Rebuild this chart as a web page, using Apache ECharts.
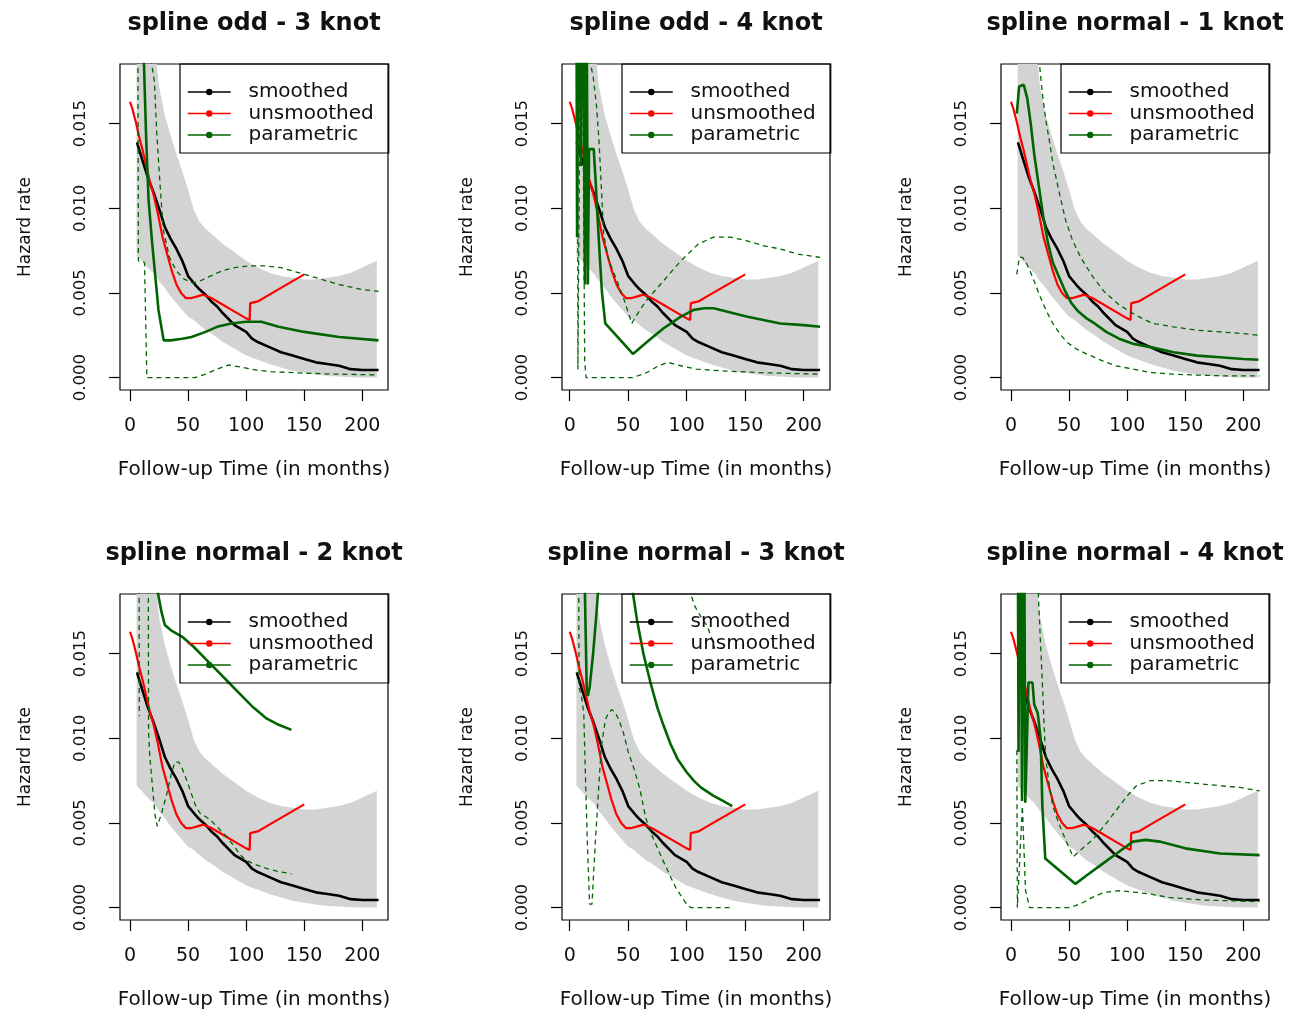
<!DOCTYPE html>
<html><head><meta charset="utf-8">
<script src="https://cdn.jsdelivr.net/npm/echarts@6/dist/echarts.min.js"></script>
<style>html,body{margin:0;padding:0;background:#fff}#c{width:1290px;height:1009px}</style>
</head><body><div id="c"></div>
<script>
// ---------- common data (same in every panel) ----------
const smoothedX = [6, 10, 15, 20, 25, 30, 35, 40, 45, 50, 56, 60, 65, 70, 75, 80, 90, 100, 105, 110, 120, 130, 140, 150, 160, 170, 180, 190, 200, 214];
const smoothedY = [0.0139, 0.0130, 0.0119, 0.0110, 0.0100, 0.0089, 0.0082, 0.0076, 0.0069, 0.0060, 0.0055, 0.0052, 0.0049, 0.0045, 0.0042, 0.0038, 0.0031, 0.0027, 0.0023, 0.0021, 0.0018, 0.0015, 0.0013, 0.0011, 0.0009, 0.0008, 0.0007, 0.0005, 0.00045, 0.00045];
const unsmoothedX = [0, 2, 5, 8, 11, 14, 17, 20, 24, 28, 32, 36, 40, 44, 48, 53, 58, 63, 70, 80, 90, 100, 103, 103.5, 110, 120, 130, 140, 150];
const unsmoothedY = [0.0163, 0.0159, 0.0151, 0.0142, 0.0134, 0.0125, 0.0116, 0.0109, 0.0097, 0.0083, 0.0073, 0.0063, 0.0055, 0.0050, 0.0047, 0.0047, 0.0048, 0.0049, 0.0047, 0.0043, 0.0039, 0.0035, 0.0034, 0.0044, 0.0045, 0.0049, 0.0053, 0.0057, 0.0061];
const bandX = [5.7, 10, 15, 20, 22, 25, 30, 35, 40, 45, 50, 55, 60, 65, 70, 80, 90, 100, 110, 120, 130, 140, 150, 160, 170, 180, 190, 200, 212.5];
const bandLower = [0.0072, 0.0069, 0.0065, 0.0062, 0.0060, 0.0057, 0.0053, 0.0048, 0.0044, 0.0040, 0.0036, 0.0034, 0.0031, 0.0028, 0.0026, 0.0021, 0.0017, 0.0013, 0.00105, 0.0008, 0.0006, 0.0004, 0.00028, 0.00018, 0.0001, 0.00006, 0.00002, 0, 0];
const bandUpper = [0.035, 0.030, 0.025, 0.0205, 0.0192, 0.0172, 0.0155, 0.0143, 0.0132, 0.0122, 0.0111, 0.0099, 0.0092, 0.0088, 0.0085, 0.0079, 0.0074, 0.0069, 0.0065, 0.0062, 0.0060, 0.0059, 0.0058, 0.0058, 0.0059, 0.0060, 0.0062, 0.0065, 0.0069];

// ---------- per-panel parametric fits ([time, hazard]) ----------
const par1 = [[10,0.030],[12,0.0186],[14,0.0140],[16,0.0105],[19,0.0080],[21.5,0.0062],[24.5,0.0040],[29,0.0022],[35,0.0022],[45,0.0023],[53,0.0024],[65,0.0027],[75,0.0030],[87,0.0032],[100,0.0033],[113,0.0033],[128,0.0030],[150,0.0027],[180,0.0024],[214,0.0022]];
const up1 = [[15,0.030],[18.5,0.0186],[21,0.0175],[23,0.0145],[25.5,0.0118],[28.5,0.0088],[34,0.0071],[40,0.0063],[47,0.0058],[54,0.0056],[60,0.0057],[66,0.0059],[79,0.0063],[90,0.0065],[102,0.0066],[116,0.0066],[130,0.0065],[140,0.0063],[150,0.0061],[165,0.0058],[180,0.0055],[200,0.0052],[214,0.0051]];
const lo1 = [[6.5,0.030],[7.2,0.0069],[12.5,0.0068],[13.5,0.0035],[14.5,0],[30,0],[56,0],[65,0.0002],[75,0.0005],[85,0.00075],[93,0.00065],[108,0.00045],[122,0.00035],[150,0.00026],[180,0.0002],[214,0.00016]];

const par2 = [[5.5,0.030],[6.3,0.0083],[8,0.030],[9.5,0.0125],[11,0.030],[13,0.0055],[14,0.030],[15.5,0.0055],[16.5,0.0135],[20.5,0.0135],[22,0.0118],[24,0.0092],[26,0.0068],[27.6,0.0050],[30.4,0.0032],[54,0.0014],[66,0.0021],[80,0.0029],[95,0.0036],[106,0.0040],[115,0.0041],[123,0.0041],[140,0.0038],[152,0.0036],[180,0.0032],[200,0.0031],[214,0.0030]];
const up2 = [[15,0.030],[17.6,0.0186],[20,0.0178],[23,0.0160],[25,0.0140],[26.5,0.0120],[29,0.0085],[33,0.0070],[40,0.0058],[47,0.0045],[53,0.0032],[60,0.0040],[66,0.0046],[80,0.0057],[95,0.0069],[110,0.0079],[123,0.0083],[137,0.0083],[151,0.0081],[165,0.0078],[180,0.0076],[195,0.0073],[214,0.0071]];
const lo2 = [[6.5,0.030],[7,0.0005],[10,0.030],[12.8,0.0010],[14,0],[54,0],[66,0.0003],[76,0.0007],[84,0.0009],[95,0.0007],[108,0.0005],[130,0.0004],[160,0.0003],[214,0.0002]];

const par3 = [[5,0.0156],[7,0.0172],[11,0.0173],[14,0.0165],[17,0.0150],[20,0.0132],[24,0.0113],[28,0.0094],[32,0.0079],[36,0.0068],[41,0.0060],[46,0.0052],[52,0.0044],[58,0.0039],[65,0.0035],[72,0.0032],[82,0.0027],[93,0.0023],[105,0.0020],[120,0.0018],[140,0.0015],[160,0.0013],[180,0.0012],[200,0.0011],[213,0.00105]];
const up3 = [[22,0.021],[24.4,0.0186],[27,0.0168],[30,0.0152],[33,0.0140],[36,0.0127],[41,0.0111],[47,0.0093],[53,0.0081],[60,0.0071],[70,0.0060],[80,0.0051],[93,0.0043],[107,0.0037],[122,0.0032],[140,0.0030],[160,0.0028],[180,0.0027],[200,0.0026],[214,0.0025]];
const lo3 = [[5,0.0061],[7.2,0.0071],[10,0.0071],[13,0.0068],[17,0.0062],[21,0.0055],[25,0.0048],[30,0.0040],[36,0.0032],[42,0.0026],[48,0.0021],[56,0.0017],[65,0.0014],[75,0.0011],[90,0.0007],[105,0.0005],[120,0.0003],[140,0.0002],[160,0.00015],[185,0.0001],[214,0.0001]];

const par4 = [[21,0.022],[24,0.0186],[27,0.0175],[30,0.0167],[35,0.0164],[45,0.0160],[55,0.0154],[65,0.0147],[75,0.0140],[85,0.0133],[95,0.0126],[105,0.0119],[117,0.0112],[128,0.0108],[139,0.0105]];
const up4 = [[14,0.030],[15.8,0.0186],[16,0.0103],[17.2,0.0088],[21.5,0.0055],[23.5,0.0048],[27.3,0.0056],[31.6,0.0067],[35.9,0.0080],[38.8,0.0086],[42,0.0086],[44.5,0.0083],[49,0.0075],[56,0.0061],[60,0.0056],[69,0.0052],[76,0.0047],[83,0.0042],[90,0.0036],[95,0.0031],[100,0.0028],[106,0.0026],[118,0.0023],[130,0.0021],[139,0.0020]];
const lo4 = [[7.6,0.030],[8,0.0113]];

const par5 = [[11,0.030],[13,0.0186],[14.5,0.0130],[15.5,0.0125],[17,0.0130],[20,0.0150],[23,0.0175],[25.5,0.0200],[30,0.030],[48,0.030],[52,0.022],[54,0.0186],[57.5,0.0170],[63,0.0150],[69,0.0133],[75,0.0118],[80,0.0108],[86,0.0097],[92,0.0088],[100,0.0080],[106,0.0075],[112,0.0071],[123,0.0066],[131,0.0063],[139,0.0060]];
const up5 = [[100,0.021],[103,0.0186],[107,0.0178],[112,0.0172],[117,0.0167],[121,0.0160],[124,0.0153]];
const lo5 = [[7,0.030],[7.7,0.0186],[8,0.0130],[10,0.0125],[12,0.0115],[13.4,0.0079],[15,0.0040],[17,0.0002],[19,0.0002],[22,0.0040],[24.8,0.0071],[27,0.0095],[30.5,0.0111],[33,0.0115],[36.2,0.0117],[39,0.0115],[42,0.0111],[46,0.0103],[50,0.0092],[55,0.0082],[60,0.0070],[65,0.0053],[70,0.0043],[79,0.0029],[85,0.0020],[90.5,0.0012],[96,0.0006],[100,0.0002],[103.4,0],[139,0]];

const par6 = [[5.5,0.030],[6.5,0.0092],[8,0.030],[9.5,0.0063],[11,0.030],[12.3,0.0062],[13.5,0.0092],[15,0.0133],[18.5,0.0133],[20,0.0120],[23,0.0115],[25.5,0.0100],[27,0.0060],[29.5,0.0029],[55.5,0.0014],[65,0.0019],[79,0.0026],[93,0.0033],[105,0.0039],[116,0.0040],[128,0.0039],[150,0.0035],[180,0.0032],[214,0.0031]];
const up6 = [[21,0.025],[23.5,0.0186],[25.5,0.0155],[27.5,0.0125],[29,0.0100],[30.5,0.0085],[33,0.0072],[36,0.0060],[41,0.0050],[47,0.0040],[53.5,0.0030],[60,0.0034],[70,0.0040],[80,0.0048],[90,0.0057],[100,0.0066],[108,0.0072],[120,0.0075],[135,0.0075],[150,0.0074],[165,0.0073],[180,0.0072],[197,0.0071],[214,0.0069]];
const lo6 = [[5,0.0093],[5.5,0],[7,0],[9.8,0.0060],[11.5,0.0060],[12.5,0.0010],[14,0.0006],[16,0],[50,0],[55,0.0001],[62,0.0003],[70,0.0006],[80,0.0009],[93,0.0010],[108,0.0009],[120,0.0008],[136,0.0006],[165,0.00045],[190,0.0004],[214,0.00035]];

const panelTitles = ['spline odd - 3 knot', 'spline odd - 4 knot', 'spline normal - 1 knot', 'spline normal - 2 knot', 'spline normal - 3 knot', 'spline normal - 4 knot'];
const xTicks = [0, 50, 100, 150, 200];
const yTicks = [0, 0.005, 0.010, 0.015];
const legendNames = ['smoothed', 'unsmoothed', 'parametric'];
const parSets = [par1, par2, par3, par4, par5, par6];
const upSets = [up1, up2, up3, up4, up5, up6];
const loSets = [lo1, lo2, lo3, lo4, lo5, lo6];

// ---------- layout ----------
const FONT = 'DejaVu Sans';
const W = 268, H = 326;
const layouts = [
  {left: 120, top: 64, xMin: -8.6, xMax: 222.1},
  {left: 562, top: 64, xMin: -6.6, xMax: 222.5},
  {left: 1001, top: 64, xMin: -8.6, xMax: 222.1},
  {left: 120, top: 594, xMin: -8.6, xMax: 222.1},
  {left: 562, top: 594, xMin: -6.6, xMax: 222.5},
  {left: 1001, top: 594, xMin: -8.6, xMax: 222.1}
];
const Y_MIN = -0.000733, Y_MAX = 0.01853;
const GREEN = '#006400';

const zip = (xs, ys) => xs.map((x, i) => [x, ys[i]]);
const smoothedData = zip(smoothedX, smoothedY);
const unsmoothedData = zip(unsmoothedX, unsmoothedY);

function bandRender(params, api) {
  const pts = [];
  for (let k = 0; k < bandX.length; k++) pts.push(api.coord([bandX[k], bandUpper[k]]));
  for (let k = bandX.length - 1; k >= 0; k--) pts.push(api.coord([bandX[k], bandLower[k]]));
  const cs = params.coordSys;
  return {
    type: 'group',
    children: [{type: 'polygon', shape: {points: pts}, style: {fill: '#d3d3d3', stroke: null}}],
    clipPath: {type: 'rect', shape: {x: cs.x, y: cs.y, width: cs.width, height: cs.height}}
  };
}

const grid = [], xAxis = [], yAxis = [], series = [], legend = [], title = [];
layouts.forEach((L, i) => {
  grid.push({left: L.left, top: L.top, width: W, height: H, show: true, borderColor: '#000', borderWidth: 1.2,
    backgroundColor: 'transparent', containLabel: false, outerBoundsMode: 'none'});
  xAxis.push({gridIndex: i, type: 'value', min: L.xMin, max: L.xMax,
    axisLine: {show: false, onZero: false},
    axisTick: {show: true, inside: false, length: 11, lineStyle: {color: '#000', width: 1.2}, customValues: xTicks},
    axisLabel: {show: true, customValues: xTicks, margin: 27, fontFamily: FONT, fontSize: 19, color: '#111', formatter: v => String(v)},
    splitLine: {show: false},
    name: 'Follow-up Time (in months)', nameLocation: 'middle', nameGap: 70,
    nameTextStyle: {fontFamily: FONT, fontSize: 20, color: '#111'}});
  yAxis.push({gridIndex: i, type: 'value', min: Y_MIN, max: Y_MAX,
    axisLine: {show: false, onZero: false},
    axisTick: {show: true, inside: false, length: 11, lineStyle: {color: '#000', width: 1.2}, customValues: yTicks},
    axisLabel: {show: true, customValues: yTicks, rotate: 90, margin: 31, fontFamily: FONT, fontSize: 16.5, color: '#111', formatter: v => v.toFixed(3)},
    splitLine: {show: false},
    name: 'Hazard rate', nameLocation: 'middle', nameGap: 86,
    nameTextStyle: {fontFamily: FONT, fontSize: 17, color: '#111'}});
  title.push({text: panelTitles[i], left: L.left + W / 2, top: L.top - 52, textAlign: 'center', padding: 0,
    textStyle: {fontFamily: FONT, fontWeight: 'bold', fontSize: 24, color: '#111'}});
  legend.push({orient: 'vertical', left: L.left + W - 208, top: L.top,
    padding: [18, 3, 8, 7], itemWidth: 43, itemHeight: 8, itemGap: 1.5,
    borderColor: '#000', borderWidth: 1.2, backgroundColor: 'transparent',
    data: legendNames, formatter: '  {name}', selectedMode: false,
    textStyle: {fontFamily: FONT, fontSize: 20, color: '#111', lineHeight: 20, width: 150},
    lineStyle: {width: 1.5}});
  const common = {xAxisIndex: i, yAxisIndex: i, animation: false, silent: true, emphasis: {disabled: true}, clip: true};
  series.push(Object.assign({}, common, {type: 'custom', name: 'band-' + i, data: [[0, 0]], renderItem: bandRender}));
  series.push(Object.assign({}, common, {type: 'line', name: 'smoothed', data: smoothedData, symbol: 'circle', showSymbol: false,
    itemStyle: {color: '#000'}, lineStyle: {color: '#000', width: 2.6}}));
  series.push(Object.assign({}, common, {type: 'line', name: 'unsmoothed', data: unsmoothedData, symbol: 'circle', showSymbol: false,
    itemStyle: {color: '#ff0000'}, lineStyle: {color: '#ff0000', width: 2.2}}));
  series.push(Object.assign({}, common, {type: 'line', name: 'parametric', data: parSets[i], symbol: 'circle', showSymbol: false,
    itemStyle: {color: GREEN}, lineStyle: {color: GREEN, width: 2.6}}));
  series.push(Object.assign({}, common, {type: 'line', name: 'upper-' + i, data: upSets[i], symbol: 'none',
    lineStyle: {color: GREEN, width: 1.3, type: [5, 4]}}));
  series.push(Object.assign({}, common, {type: 'line', name: 'lower-' + i, data: loSets[i], symbol: 'none',
    lineStyle: {color: GREEN, width: 1.3, type: [5, 4]}}));
});

const chart = echarts.init(document.getElementById('c'), null, {renderer: 'canvas', width: 1290, height: 1009});
chart.setOption({animation: false, backgroundColor: '#fff', tooltip: {show: false}, title, legend, grid, xAxis, yAxis, series});
</script>
</body></html>
